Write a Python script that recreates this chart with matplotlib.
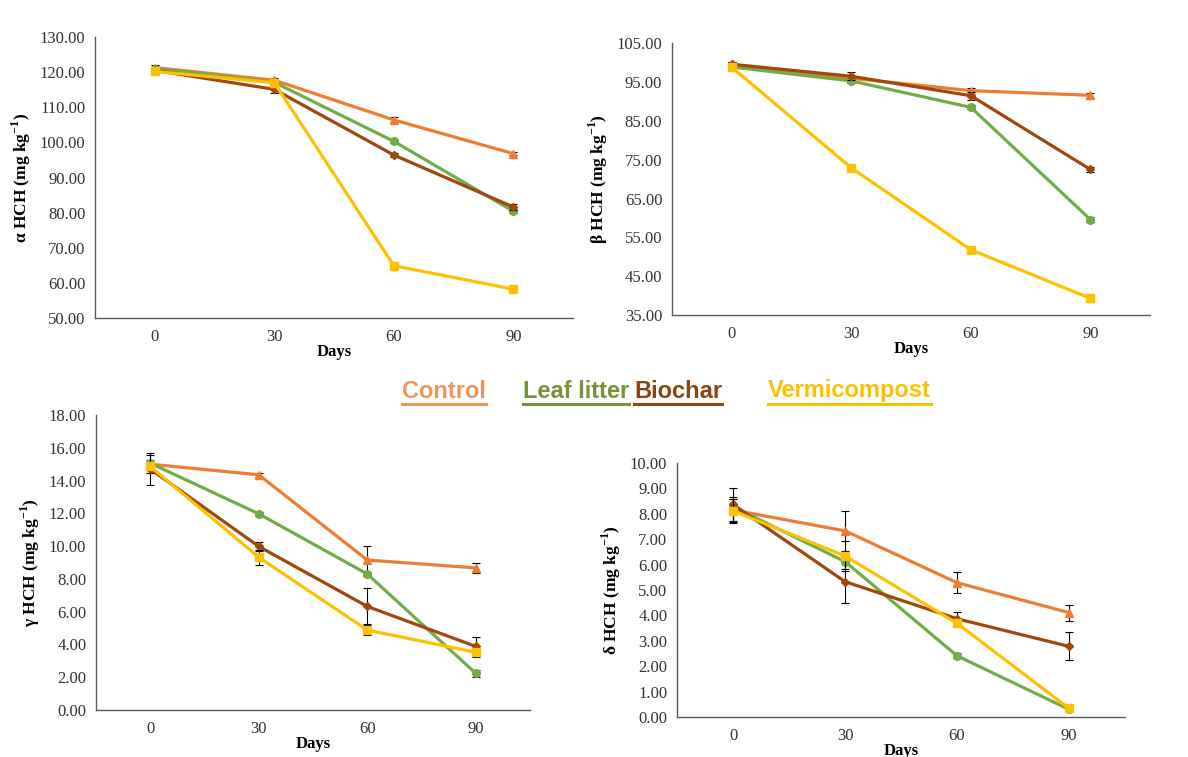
import matplotlib
matplotlib.use("Agg")
import matplotlib.pyplot as plt
from matplotlib.lines import Line2D
import numpy as np

plt.rcParams['font.family'] = ['Liberation Serif', 'DejaVu Serif']
plt.rcParams['mathtext.fontset'] = 'custom'
plt.rcParams['mathtext.rm'] = 'Liberation Serif:bold'
plt.rcParams['mathtext.bf'] = 'Liberation Serif:bold'

days = [0, 30, 60, 90]
treatments = ["Control", "Leaf litter", "Biochar", "Vermicompost"]

# alpha HCH
alpha_control = [121.3, 117.7, 106.4, 96.8]
alpha_leaf = [121.0, 117.1, 100.3, 80.4]
alpha_biochar = [120.5, 115.1, 96.4, 81.6]
alpha_verm = [120.2, 117.0, 64.9, 58.2]
alpha_err = [[0.8, 0.6, 0.7, 0.5], [0.6, 0.5, 0.5, 0.6], [0.7, 0.9, 0.6, 0.9], [0.5, 0.5, 0.5, 0.5]]

# beta HCH
beta_control = [99.5, 96.0, 92.8, 91.6]
beta_leaf = [98.9, 95.3, 88.5, 59.6]
beta_biochar = [99.6, 96.5, 91.5, 72.5]
beta_verm = [98.8, 72.9, 51.8, 39.3]
beta_err = [[0.6, 0.5, 0.8, 0.7], [0.5, 0.5, 0.5, 0.7], [0.7, 1.0, 1.0, 0.6], [0.4, 0.4, 0.4, 0.5]]

# gamma HCH
gamma_control = [15.0, 14.35, 9.15, 8.67]
gamma_leaf = [15.06, 11.97, 8.3, 2.24]
gamma_biochar = [14.7, 9.98, 6.32, 3.88]
gamma_verm = [14.86, 9.32, 4.88, 3.52]
gamma_err = [[0.55, 0.12, 0.85, 0.3], [0.2, 0.12, 0.15, 0.22], [1.0, 0.3, 1.1, 0.6], [0.2, 0.45, 0.33, 0.27]]

# delta HCH
delta_control = [8.15, 7.33, 5.29, 4.11]
delta_leaf = [8.28, 6.12, 2.41, 0.30]
delta_biochar = [8.37, 5.33, 3.87, 2.78]
delta_verm = [8.12, 6.34, 3.69, 0.34]
delta_err = [[0.5, 0.78, 0.41, 0.32], [0.3, 0.3, 0.1, 0.08], [0.65, 0.85, 0.26, 0.55], [0.45, 0.6, 0.1, 0.08]]

colors = ['#ED7D31', '#70AD47', '#9E480E', '#FFC000']
markers = ['^', 'o', 'D', 's']
legend_colors = ['#F0955B', '#76923C', '#8B4513', '#FFC000']

panels = [
    dict(pos=[0.0800, 0.5799, 0.4024, 0.3712], data=[alpha_control, alpha_leaf, alpha_biochar, alpha_verm],
         err=alpha_err, ylim=(50, 130), step=10, label=r'α HCH (mg kg$^{-1}$)'),
    dict(pos=[0.5657, 0.5839, 0.4024, 0.3589], data=[beta_control, beta_leaf, beta_biochar, beta_verm],
         err=beta_err, ylim=(35, 105), step=10, label=r'β HCH (mg kg$^{-1}$)'),
    dict(pos=[0.0808, 0.0621, 0.3653, 0.3897], data=[gamma_control, gamma_leaf, gamma_biochar, gamma_verm],
         err=gamma_err, ylim=(0, 18), step=2, label=r'γ HCH (mg kg$^{-1}$)'),
    dict(pos=[0.5699, 0.0528, 0.3771, 0.3355], data=[delta_control, delta_leaf, delta_biochar, delta_verm],
         err=delta_err, ylim=(0, 10), step=1, label=r'δ HCH (mg kg$^{-1}$)'),
]

fig = plt.figure(figsize=(11.88, 7.57), dpi=100)

for p in panels:
    ax = fig.add_axes(p['pos'])
    for i, series in enumerate(p['data']):
        ax.errorbar(days, series, yerr=p['err'][i], color=colors[i], marker=markers[i],
                    markersize=5.5 if markers[i] != 'D' else 4.5, linewidth=2.3,
                    ecolor='black', elinewidth=0.8, capsize=3, capthick=0.8, zorder=3 + i)
    lo, hi = p['ylim']
    ax.set_ylim(lo, hi)
    ax.set_xlim(-15, 105)
    ax.set_xticks(days)
    ticks = np.arange(lo, hi + p['step'] / 2, p['step'])
    ax.set_yticks(ticks)
    ax.set_yticklabels([f"{t:.2f}" for t in ticks])
    ax.tick_params(length=0, labelsize=12, colors='#333333', pad=7)
    ax.tick_params(axis='x', pad=8)
    for s in ['top', 'right']:
        ax.spines[s].set_visible(False)
    for s in ['left', 'bottom']:
        ax.spines[s].set_color('#595959')
        ax.spines[s].set_linewidth(1.0)
    ax.set_xlabel('Days', fontsize=12, fontweight='bold', labelpad=-1)
    ax.set_ylabel(p['label'], fontsize=12.5, fontweight='bold', labelpad=5)

# Legend as underlined coloured text
fig.canvas.draw()
renderer = fig.canvas.get_renderer()
legend_x = [402, 523, 634, 768]
for name, col, x in zip(treatments, legend_colors, legend_x):
    t = fig.text(x / 1188, 1 - 391 / 757, name, fontsize=17, fontweight='bold', color=col,
                 family='Liberation Sans', ha='left', va='center')
    bb = t.get_window_extent(renderer=renderer)
    x0, x1 = bb.x0 / fig.bbox.width, bb.x1 / fig.bbox.width
    yl = (bb.y0 - 1.0) / fig.bbox.height
    fig.add_artist(Line2D([x0, x1], [yl, yl], color=col, linewidth=2.2, transform=fig.transFigure))

fig.savefig('out.png', dpi=100)
